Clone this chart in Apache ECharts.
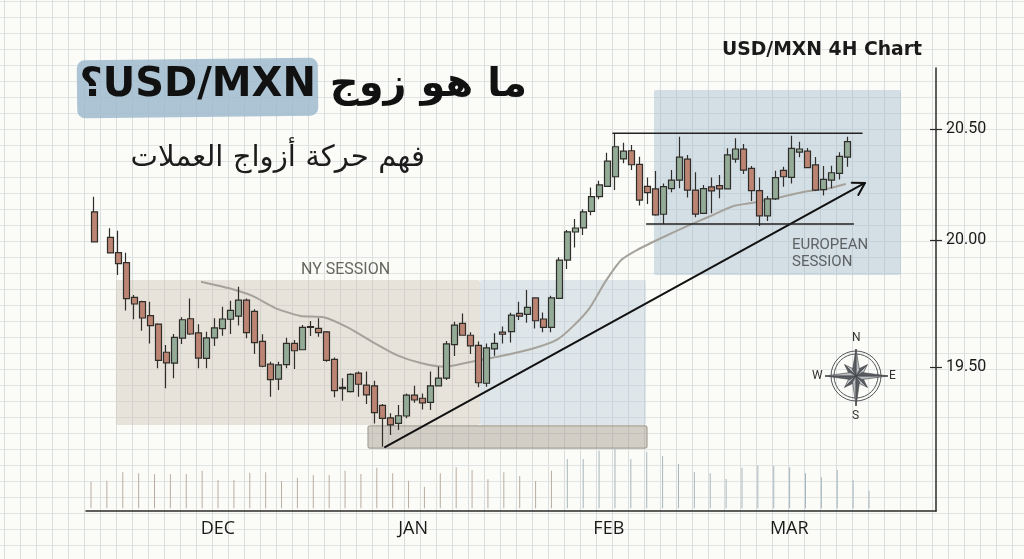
<!DOCTYPE html>
<html lang="ar">
<head>
  <meta charset="UTF-8">
  <title>USD/MXN 4H Chart</title>
  <script src="https://cdn.jsdelivr.net/npm/echarts@6/dist/echarts.min.js"></script>
  <style>
    html, body { margin: 0; padding: 0; background: #fbfbf7; }
  </style>
</head>
<body>
  <div id="main" dir="rtl" style="width:1024px;height:559px"></div>
  <script type="text/javascript">
    // candle values
    var opens = [20.127,20.012,19.950,19.911,19.774,19.757,19.702,19.669,19.558,19.515,19.614,19.690,19.634,19.534,19.615,19.651,19.688,19.700,19.763,19.719,19.601,19.511,19.452,19.509,19.593,19.568,19.659,19.652,19.638,19.530,19.420,19.403,19.476,19.429,19.426,19.349,19.300,19.278,19.307,19.389,19.377,19.361,19.426,19.456,19.588,19.672,19.625,19.585,19.436,19.571,19.637,19.639,19.711,19.707,19.772,19.689,19.656,19.770,19.921,20.036,20.055,20.129,20.195,20.242,20.285,20.365,20.402,20.341,20.242,20.230,20.116,20.231,20.270,20.364,20.225,20.120,20.239,20.245,20.230,20.364,20.409,20.323,20.222,20.109,20.185,20.314,20.282,20.396,20.400,20.338,20.227,20.270,20.300,20.373];
    var closes = [19.993,19.949,19.907,19.769,19.748,19.693,19.663,19.526,19.516,19.617,19.686,19.630,19.535,19.615,19.654,19.689,19.723,19.763,19.635,19.596,19.503,19.450,19.508,19.593,19.564,19.656,19.656,19.635,19.526,19.407,19.415,19.471,19.432,19.390,19.320,19.298,19.272,19.308,19.389,19.370,19.359,19.426,19.456,19.591,19.665,19.625,19.583,19.438,19.575,19.593,19.629,19.704,19.700,19.735,19.682,19.656,19.772,19.921,20.037,20.054,20.127,20.195,20.248,20.355,20.420,20.400,20.339,20.180,20.213,20.113,20.240,20.270,20.373,20.225,20.117,20.231,20.221,20.230,20.383,20.410,20.315,20.222,20.109,20.185,20.281,20.285,20.413,20.410,20.326,20.225,20.273,20.303,20.377,20.443];
    var highs = [20.195,20.053,20.042,19.950,19.783,19.761,19.757,19.672,19.587,19.630,19.696,19.770,19.668,19.639,19.692,19.737,19.761,19.816,19.770,19.727,19.629,19.521,19.521,19.615,19.606,19.665,19.681,19.692,19.642,19.537,19.456,19.475,19.482,19.482,19.446,19.354,19.318,19.350,19.396,19.426,19.396,19.482,19.501,19.602,19.678,19.711,19.637,19.600,19.593,19.633,19.659,19.714,19.757,19.803,19.772,19.715,19.781,19.932,20.045,20.095,20.138,20.236,20.267,20.393,20.477,20.438,20.428,20.375,20.282,20.311,20.255,20.315,20.465,20.383,20.305,20.248,20.282,20.293,20.413,20.458,20.432,20.333,20.281,20.198,20.312,20.330,20.470,20.443,20.414,20.374,20.333,20.335,20.395,20.465];
    var lows = [19.991,19.949,19.862,19.722,19.688,19.643,19.593,19.495,19.416,19.456,19.591,19.626,19.495,19.495,19.583,19.623,19.630,19.663,19.613,19.551,19.499,19.383,19.409,19.495,19.492,19.567,19.622,19.619,19.521,19.381,19.367,19.400,19.383,19.354,19.278,19.186,19.232,19.252,19.298,19.359,19.333,19.331,19.425,19.449,19.543,19.623,19.551,19.420,19.422,19.544,19.593,19.596,19.685,19.674,19.652,19.637,19.637,19.768,19.886,19.970,20.023,20.111,20.183,20.240,20.225,20.346,20.315,20.155,20.162,20.109,20.072,20.215,20.233,20.192,20.102,20.117,20.120,20.188,20.228,20.348,20.297,20.176,20.063,20.086,20.180,20.240,20.255,20.373,20.323,20.221,20.200,20.233,20.273,20.330];

    // moving average, sampled along the grey line
    var maSlots = [14.34,17.75,20.75,23.75,26.75,29.75,32.75,35.75,38.75,41.75,44.75,47.75,51.75,55.75,58.75,60.75,62.75,64.75,66.75,68.75,71.75,74.75,77.75,80.75,83.75,86.75,89.75,92.75,94.75];
    var maValues = [19.836,19.811,19.780,19.730,19.701,19.695,19.654,19.598,19.547,19.516,19.501,19.519,19.543,19.573,19.608,19.661,19.730,19.835,19.921,19.961,20.009,20.059,20.106,20.153,20.171,20.194,20.218,20.233,20.252];

    var volumes = [80,83,108,105,102,102,103,113,85,85,107,108,82,92,100,100,113,103,122,105,83,65,105,123,115,87,108,97,82,113,148,148,173,178,148,170,157,133,109,105,88,122,129,127,123,105,93,115,85,53];

    var priceTicks = [19.5, 20, 20.5];
    var monthLabels = ['DEC', 'JAN', 'FEB', 'MAR'];
    var monthSlots = [16.46, 40.8, 65.2, 87.7];

    // shaded zones: slot from, slot to, price top, price bottom, colour
    var zones = [
      [3.74, 49.13, 19.843, 19.272, 'rgba(200,188,172,0.38)'],
      [49.13, 69.83, 19.843, 19.272, 'rgba(180,200,215,0.42)'],
      [70.83, 101.64, 20.676, 19.862, 'rgba(165,188,207,0.45)'],
      [35.17, 69.96, 19.268, 19.181, 'rgba(160,150,135,0.45)']
    ];

    // annotation lines: [slot, price]
    var trendLine = [[37.29, 19.185], [97.14, 20.257]];
    var arrowHead = [[95.49, 20.258], [97.14, 20.257], [96.31, 20.203]];
    var topLine = [[65.72, 20.481], [96.77, 20.481]];
    var bottomLine = [[69.92, 20.072], [95.69, 20.072]];

    // the hand drawn price axis is tighter above 20.00 than below it
    function toAxis(p) {
      return p >= 20 ? 20 + (p - 20) * 222 / 254 : p;
    }
    function fromAxis(a) {
      return a >= 20 ? 20 + (a - 20) * 254 / 222 : a;
    }

    var slotCount = 107;
    var slotNames = [];
    var candles = [];
    for (var i = 0; i < slotCount; i++) {
      slotNames.push(String(i));
      candles.push(['-', '-', '-', '-']);
    }
    opens.forEach(function (o, k) {
      var slot = k === 0 ? 1 : k + 2;
      candles[slot] = [toAxis(o), toAxis(closes[k]), toAxis(lows[k]), toAxis(highs[k])];
    });

    function onAxis(points) {
      return points.map(function (p) { return [p[0], toAxis(p[1])]; });
    }

    function annotationLine(points, width, color) {
      return {
        type: 'line',
        xAxisIndex: 1,
        yAxisIndex: 0,
        data: onAxis(points),
        showSymbol: false,
        silent: true,
        z: 6,
        lineStyle: { color: color, width: width, join: 'round', cap: 'round' }
      };
    }

    // squared paper and the other drawn bits
    var paper = [];
    for (var x = 4.5; x < 1024; x += 16) {
      paper.push({ type: 'line', silent: true, shape: { x1: x, y1: 0, x2: x, y2: 559 }, style: { stroke: '#dadddd', lineWidth: 1 } });
    }
    for (var y = 1.5; y < 559; y += 16) {
      paper.push({ type: 'line', silent: true, shape: { x1: 0, y1: y, x2: 1024, y2: y }, style: { stroke: '#e1e4e4', lineWidth: 1 } });
    }

    function label(text, left, top, size, color) {
      return { type: 'text', silent: true, z: 10, x: left, y: top, style: { text: text, font: size + 'px Roboto', fill: color, align: 'left' } };
    }

    function compass(cx, cy) {
      var parts = [
        { type: 'circle', silent: true, z: 10, shape: { cx: cx, cy: cy, r: 25 }, style: { fill: 'none', stroke: '#55585a', lineWidth: 1 } },
        { type: 'circle', silent: true, z: 10, shape: { cx: cx, cy: cy, r: 22 }, style: { fill: 'none', stroke: '#55585a', lineWidth: 1 } }
      ];
      var star = [[0, 27], [45, 16], [90, 32], [135, 16], [180, 30], [225, 16], [270, 31], [315, 16]];
      star.sort(function (a, b) { return a[1] - b[1]; }).forEach(function (s) {
        var t = s[0] * Math.PI / 180;
        var tip = [cx + Math.sin(t) * s[1], cy - Math.cos(t) * s[1]];
        var side = [Math.cos(t) * 3.5, Math.sin(t) * 3.5];
        var base = [cx + Math.sin(t) * 6, cy - Math.cos(t) * 6];
        parts.push({ type: 'polygon', silent: true, z: 11, shape: { points: [[cx, cy], tip, [base[0] + side[0], base[1] + side[1]]] }, style: { fill: '#b9bec2', stroke: '#3f4245', lineWidth: 0.6 } });
        parts.push({ type: 'polygon', silent: true, z: 11, shape: { points: [[cx, cy], tip, [base[0] - side[0], base[1] - side[1]]] }, style: { fill: '#5a5e62', stroke: '#3f4245', lineWidth: 0.6 } });
      });
      parts.push(label('N', cx - 4, cy - 44, 12, '#333'));
      parts.push(label('S', cx - 4, cy + 34, 12, '#333'));
      parts.push(label('W', cx - 44, cy - 6, 12, '#333'));
      parts.push(label('E', cx + 33, cy - 6, 12, '#333'));
      return parts;
    }

    var myChart = echarts.init(document.getElementById('main'));

    var option = {
      animation: false,
      backgroundColor: '#fbfbf7',
      title: [
        {
          text: 'ما هو زوج USD/MXN؟',
          right: 497,
          top: 66,
          padding: 0,
          textStyle: { fontFamily: 'DejaVu Sans', fontWeight: 'bold', fontSize: 40, color: '#111' }
        },
        {
          text: 'فهم حركة أزواج العملات',
          right: 599,
          top: 144,
          padding: 0,
          textStyle: { fontFamily: 'DejaVu Sans', fontWeight: 'normal', fontSize: 29.2, color: '#1c1c1c' }
        },
        {
          text: 'USD/MXN 4H Chart',
          right: 102,
          top: 41,
          padding: 0,
          textStyle: { fontFamily: 'DejaVu Sans', fontWeight: 'bold', fontSize: 18.8, color: '#1a1a1a' }
        }
      ],
      grid: [
        { left: 86, right: 88, top: 68, bottom: 48 },
        { left: 91, right: 155, top: 449, bottom: 50.7 }
      ],
      xAxis: [
        { type: 'category', gridIndex: 0, data: slotNames, boundaryGap: false, show: false },
        {
          type: 'value',
          gridIndex: 0,
          position: 'bottom',
          min: 0,
          max: slotCount - 1,
          axisLine: { show: true, onZero: false, lineStyle: { color: '#2a2a2a', width: 1.5 } },
          axisTick: { show: false },
          splitLine: { show: false },
          axisLabel: {
            customValues: monthSlots,
            formatter: function (v, idx) { return monthLabels[monthSlots.indexOf(v)]; },
            margin: 9,
            fontFamily: 'Open Sans',
            fontSize: 18,
            color: '#1a1a1a'
          }
        },
        { type: 'category', gridIndex: 1, data: volumes.map(function (v, k) { return String(k); }), boundaryGap: false, show: false }
      ],
      yAxis: [
        {
          type: 'value',
          gridIndex: 0,
          position: 'right',
          min: 20 - 271 / 254,
          max: 20 + 172 / 254,
          axisLine: { show: true, onZero: false, lineStyle: { color: '#2a2a2a', width: 1.5 } },
          axisTick: { show: true, length: 6, customValues: priceTicks.map(toAxis), lineStyle: { color: '#2a2a2a', width: 1.2 } },
          splitLine: { show: false },
          axisLabel: {
            customValues: priceTicks.map(toAxis),
            formatter: function (v) { return fromAxis(v).toFixed(2); },
            margin: 10,
            padding: [5, 0, 0, 0],
            fontFamily: 'Roboto',
            fontSize: 16,
            color: '#1a1a1a'
          }
        },
        {
          type: 'value',
          gridIndex: 0,
          position: 'right',
          min: 20 - 271 / 254,
          max: 20 + 172 / 254,
          axisLine: { show: false, onZero: false },
          axisTick: { show: true, inside: true, length: 6, customValues: priceTicks.map(toAxis), lineStyle: { color: '#2a2a2a', width: 1.2 } },
          axisLabel: { show: false },
          splitLine: { show: false }
        },
        { type: 'value', gridIndex: 1, min: 0, max: 178, show: false }
      ],
      series: [
        {
          type: 'custom',
          xAxisIndex: 1,
          yAxisIndex: 0,
          silent: true,
          clip: false,
          z: 1,
          data: zones.map(function (row, k) { return [row[0], row[1], row[2], row[3], k]; }),
          encode: { x: [0, 1], y: [2, 3] },
          renderItem: function (params, api) {
            var a = api.coord([api.value(0), toAxis(api.value(2))]);
            var b = api.coord([api.value(1), toAxis(api.value(3))]);
            var k = api.value(4);
            return {
              type: 'rect',
              shape: { x: a[0], y: a[1], width: b[0] - a[0], height: b[1] - a[1], r: 2 },
              style: { fill: zones[k][4], stroke: k === 3 ? '#a5a198' : 'none', lineWidth: 1.2 }
            };
          }
        },
        {
          type: 'bar',
          xAxisIndex: 2,
          yAxisIndex: 2,
          data: volumes,
          barWidth: 1,
          clip: false,
          silent: true,
          z: 2,
          itemStyle: {
            color: function (p) { return p.dataIndex < 30 ? '#b9ada2' : '#a7b6bd'; }
          }
        },
        {
          type: 'line',
          xAxisIndex: 1,
          yAxisIndex: 0,
          data: maSlots.map(function (s, k) { return [s, toAxis(maValues[k])]; }),
          smooth: 0.2,
          showSymbol: false,
          silent: true,
          z: 3,
          lineStyle: { color: '#a5a29b', width: 2 }
        },
        {
          type: 'candlestick',
          xAxisIndex: 0,
          yAxisIndex: 0,
          data: candles,
          barWidth: 6.5,
          silent: true,
          z: 4,
          itemStyle: {
            color: '#93ab97',
            color0: '#bb8473',
            borderColor: '#2f2d2a',
            borderColor0: '#2f2d2a',
            borderColorDoji: '#2f2d2a',
            borderWidth: 1.2
          }
        },
        annotationLine(trendLine, 2, '#111'),
        annotationLine(arrowHead, 2, '#111'),
        annotationLine(topLine, 1.6, '#222'),
        annotationLine(bottomLine, 1.6, '#222')
      ],
      graphic: {
        elements: paper.concat([
          {
            type: 'rect',
            silent: true,
            z: 1,
            rotation: 0.012,
            originX: 197,
            originY: 88,
            shape: { x: 77, y: 59, width: 241, height: 58, r: 8 },
            style: { fill: 'rgba(158,186,204,0.85)' }
          },
          label('NY SESSION', 301, 262, 16, '#66675f'),
          label('EUROPEAN', 792, 238, 15, '#5e6265'),
          label('SESSION', 792, 255, 15, '#5e6265')
        ], compass(856, 376))
      }
    };

    myChart.setOption(option);
  </script>
</body>
</html>
